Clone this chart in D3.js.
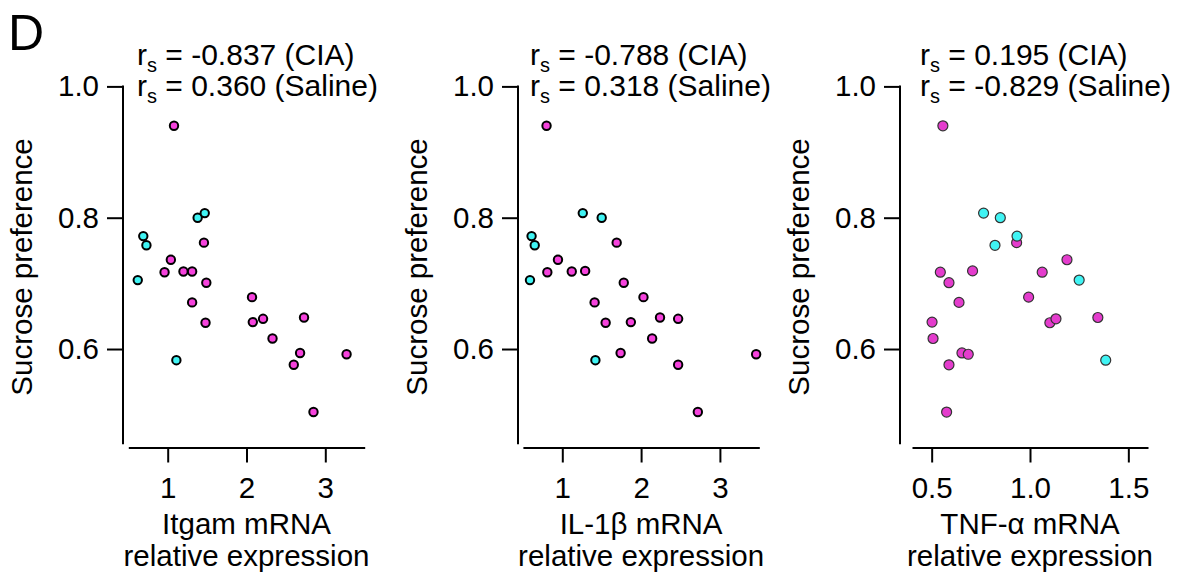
<!DOCTYPE html>
<html>
<head>
<meta charset="utf-8">
<script src="https://cdn.jsdelivr.net/npm/d3@7"></script>
<style>
  body { margin: 0; background: #fff; }
  svg text { font-family: "Liberation Sans", Arial, sans-serif; fill: #000; }
</style>
</head>
<body>
<svg id="chart" width="1203" height="580"></svg>
<script>
// sucrose preference vs relative expression, CIA (magenta) and Saline (cyan)
var itgamCIA_x = [1.08, 1.46, 1.04, 0.96, 1.20, 1.31, 1.49, 1.31, 1.48, 2.07, 2.08, 2.21, 2.33, 2.73, 2.68, 2.60, 3.27, 2.85];
var itgamCIA_y = [0.940, 0.762, 0.736, 0.717, 0.718, 0.718, 0.701, 0.671, 0.640, 0.679, 0.641, 0.646, 0.616, 0.648, 0.594, 0.576, 0.592, 0.504];
var itgamSal_x = [0.69, 0.73, 0.62, 1.38, 1.47, 1.11];
var itgamSal_y = [0.772, 0.758, 0.705, 0.800, 0.807, 0.583];

var il1bCIA_x = [0.80, 1.69, 0.945, 0.81, 1.12, 1.29, 1.78, 1.41, 2.03, 1.55, 1.87, 2.24, 2.47, 2.14, 1.74, 2.47, 3.46, 2.72];
var il1bCIA_y = [0.940, 0.762, 0.736, 0.717, 0.718, 0.719, 0.701, 0.671, 0.679, 0.640, 0.641, 0.648, 0.646, 0.616, 0.594, 0.576, 0.592, 0.504];
var il1bSal_x = [0.61, 0.65, 0.59, 1.26, 1.50, 1.42];
var il1bSal_y = [0.772, 0.758, 0.705, 0.807, 0.800, 0.583];

var tnfCIA_x = [0.557, 0.932, 1.188, 0.544, 0.708, 1.062, 0.588, 0.639, 0.993, 0.502, 1.101, 1.132, 1.345, 0.507, 0.654, 0.686, 0.588, 0.576];
var tnfCIA_y = [0.940, 0.762, 0.736, 0.717, 0.719, 0.717, 0.701, 0.671, 0.679, 0.641, 0.640, 0.646, 0.648, 0.616, 0.594, 0.592, 0.576, 0.504];
var tnfSal_x = [0.764, 0.849, 0.934, 0.822, 1.250, 1.385];
var tnfSal_y = [0.807, 0.800, 0.772, 0.758, 0.705, 0.583];

var yTicks = [0.6, 0.8, 1.0];
var xTicksA = [1, 2, 3];
var xTicksB = [0.5, 1.0, 1.5];

var panels = [
  {cx: itgamCIA_x, cy: itgamCIA_y, sx: itgamSal_x, sy: itgamSal_y, dom: [0.5, 3.5], ticks: xTicksA, fmt: d3.format("d"),
   r1: "-0.837", r2: "0.360", label: "Itgam mRNA",
   axisX: 123, range: [128.3, 364.7], textX: 137, thin: false},
  {cx: il1bCIA_x, cy: il1bCIA_y, sx: il1bSal_x, sy: il1bSal_y, dom: [0.5, 3.5], ticks: xTicksA, fmt: d3.format("d"),
   r1: "-0.788", r2: "0.318", label: "IL-1\u03b2 mRNA",
   axisX: 518, range: [522.9, 759.3], textX: 530, thin: false},
  {cx: tnfCIA_x, cy: tnfCIA_y, sx: tnfSal_x, sy: tnfSal_y, dom: [0.4, 1.6], ticks: xTicksB, fmt: d3.format(".1f"),
   r1: "0.195", r2: "-0.829", label: "TNF-\u03b1 mRNA",
   axisX: 900, range: [912, 1148], textX: 920, thin: true}
];

var svg = d3.select("#chart");
var FS = 29.5;

svg.append("text").attr("x", 8).attr("y", 50)
  .style("font-size", "50px").text("D");

var yScale = d3.scaleLinear().domain([0.45, 1.0]).range([447.5, 86.4]);

panels.forEach(function (p) {
  var x = d3.scaleLinear().domain(p.dom).range(p.range);
  var g = svg.append("g");

  // y axis
  g.append("g")
    .attr("transform", "translate(" + p.axisX + ",0)")
    .call(d3.axisLeft(yScale).tickValues(yTicks).tickFormat(d3.format(".1f"))
      .tickSize(16).tickPadding(8).tickSizeOuter(0))
    .call(function (a) {
      a.select(".domain").remove();
      a.selectAll("line").attr("stroke", "#000").attr("stroke-width", 2);
      a.selectAll("text").style("font-size", FS + "px").attr("fill", "#000");
    });
  g.append("line")
    .attr("x1", p.axisX).attr("x2", p.axisX)
    .attr("y1", yScale(1.0) - 1).attr("y2", yScale(0.455))
    .attr("stroke", "#000").attr("stroke-width", 2);

  // x axis
  g.append("g")
    .attr("transform", "translate(0," + yScale(0.45) + ")")
    .call(d3.axisBottom(x).tickValues(p.ticks).tickFormat(p.fmt)
      .tickSize(15).tickPadding(15).tickSizeOuter(0))
    .call(function (a) {
      a.select(".domain").attr("stroke", "#000").attr("stroke-width", 2);
      a.selectAll("line").attr("stroke", "#000").attr("stroke-width", 2);
      a.selectAll("text").style("font-size", FS + "px").attr("fill", "#000");
    });

  // axis titles
  g.append("text")
    .attr("transform", "translate(" + (p.axisX - 91) + "," + yScale(0.725) + ") rotate(-90)")
    .attr("text-anchor", "middle").style("font-size", FS + "px")
    .text("Sucrose preference");
  var mid = (p.range[0] + p.range[1]) / 2;
  g.append("text").attr("x", mid).attr("y", 534)
    .attr("text-anchor", "middle").style("font-size", FS + "px").text(p.label);
  g.append("text").attr("x", mid).attr("y", 566)
    .attr("text-anchor", "middle").style("font-size", FS + "px").text("relative expression");

  // correlation text
  [[p.r1, "CIA", 65], [p.r2, "Saline", 96]].forEach(function (r) {
    var t = g.append("text").attr("x", p.textX).attr("y", r[2]).style("font-size", "30px");
    t.append("tspan").text("r");
    t.append("tspan").attr("dy", 7).style("font-size", "20px").text("s");
    t.append("tspan").attr("dy", -7).text(" = " + r[0] + " (" + r[1] + ")");
  });

  // points: CIA first, Saline on top
  var cia = p.cx.map(function (v, i) { return {x: v, y: p.cy[i]}; });
  var sal = p.sx.map(function (v, i) { return {x: v, y: p.sy[i]}; });
  var stroke = p.thin ? "#333" : "#000";
  var sw = p.thin ? 1.2 : 2;
  var rad = p.thin ? 5 : 4.2;

  g.selectAll(".cia").data(cia).enter().append("circle")
    .attr("cx", function (d) { return x(d.x); })
    .attr("cy", function (d) { return yScale(d.y); })
    .attr("r", rad)
    .attr("fill", p.thin ? "#e43ccd" : "#f542dc")
    .attr("stroke", stroke).attr("stroke-width", sw);

  g.selectAll(".sal").data(sal).enter().append("circle")
    .attr("cx", function (d) { return x(d.x); })
    .attr("cy", function (d) { return yScale(d.y); })
    .attr("r", rad)
    .attr("fill", "#40f4f4")
    .attr("stroke", stroke).attr("stroke-width", sw);
});
</script>
</body>
</html>
